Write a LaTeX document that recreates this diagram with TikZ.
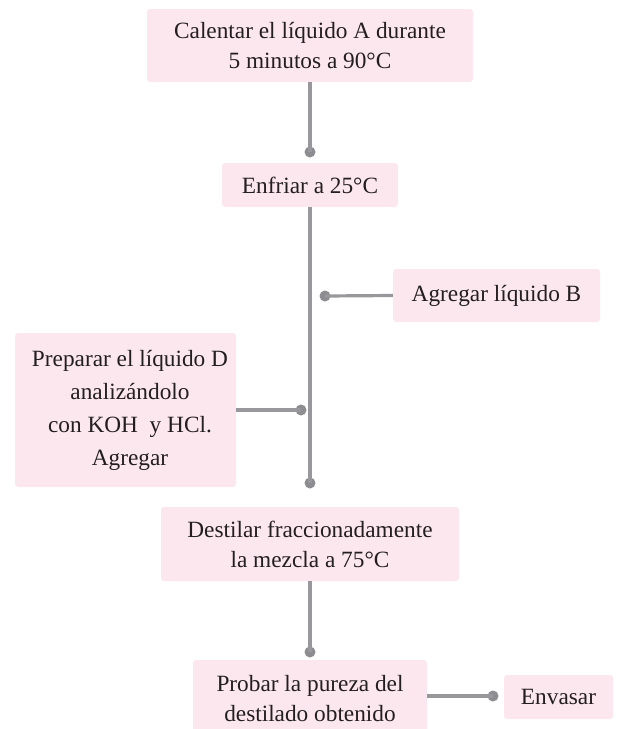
\documentclass[tikz,border=0pt]{standalone}
\usepackage{fontspec}
\setmainfont{Liberation Serif}
\definecolor{boxpink}{RGB}{252,231,239}
\definecolor{linegray}{RGB}{152,152,156}
\definecolor{dotgray}{RGB}{140,140,145}
\definecolor{txt}{RGB}{35,31,32}
\begin{document}
\begin{tikzpicture}[x=1pt,y=-1pt,
  box/.style={fill=boxpink,rounded corners=3pt,align=center,inner sep=0pt,
    text=txt,font=\fontsize{23.3}{30}\selectfont},
  dotnode/.style={circle,fill=dotgray,inner sep=0pt,minimum size=11pt},
  conn/.style={draw=linegray,line width=3.2pt}]
\useasboundingbox (0,0) rectangle (617,729);
\clip (0,0) rectangle (617,729);
\node[box,minimum width=326pt,minimum height=73pt] (calentar) at (310,45.5) {Calentar el líquido A durante\\5 minutos a 90°C};
\node[box,minimum width=176pt,minimum height=44pt] (enfriar) at (310,185) {Enfriar a 25°C};
\node[box,minimum width=207pt,minimum height=53pt] (agregarB) at (496.5,295.5) {Agregar líquido B};
\node[box,minimum width=221pt,minimum height=154pt,font=\fontsize{23.3}{33}\selectfont] (prepD) at (125.5,410) {\hspace{9pt}Preparar el líquido D\\\hspace{9pt}analizándolo\\\hspace{9pt}con KOH\ \ y HCl.\\\hspace{9pt}Agregar};
\node[box,minimum width=298pt,minimum height=74pt] (destilar) at (310,544) {Destilar fraccionadamente\\la mezcla a 75°C};
\node[box,minimum width=234pt,minimum height=77pt] (probar) at (310,698.5) {Probar la pureza del\\destilado obtenido};
\node[box,minimum width=109pt,minimum height=44pt] (envasar) at (558.5,697) {Envasar};
\node[dotnode] (d1) at (310,152) {};
\node[dotnode] (dB) at (325,296) {};
\node[dotnode] (dD) at (301,410) {};
\node[dotnode] (d2) at (310,483) {};
\node[dotnode] (d3) at (310,652) {};
\node[dotnode] (dE) at (493,696) {};
\draw[conn] (calentar.south) -- (d1.center);
\draw[conn] (enfriar.south) -- (d2.center);
\draw[conn] (dB.center) -- (agregarB.west);
\draw[conn] (prepD.east) -- (dD.center);
\draw[conn] (destilar.south) -- (d3.center);
\draw[conn] (probar.east |- dE) -- (dE.center);
\end{tikzpicture}
\end{document}
